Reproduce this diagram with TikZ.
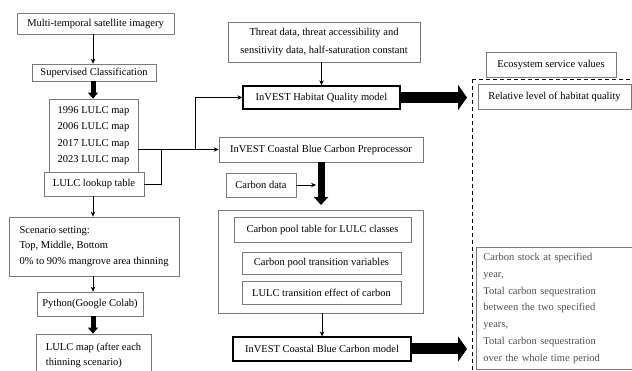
\documentclass[tikz,border=0pt]{standalone}
\usepackage{fontspec}
\setmainfont{Liberation Serif}
\usetikzlibrary{arrows.meta}
\definecolor{bordergray}{HTML}{7A7A7A}
\definecolor{textgray}{HTML}{505050}
\begin{document}
\begin{tikzpicture}[x=1pt,y=-1pt,
  box/.style={draw=bordergray, line width=0.7pt, inner sep=0pt, align=center, font=\fontsize{10.5}{16.3}\selectfont},
  tbox/.style={box, draw=black, line width=1.3pt},
  thinarrow/.style={draw=black, line width=0.7pt, -{Stealth[length=5pt,width=4.5pt]}},
  thinline/.style={draw=black, line width=0.7pt},
  thickv/.style={draw=black, line width=5pt, -{Triangle[length=6pt,width=10pt]}},
  thickc/.style={draw=black, line width=7pt, -{Triangle[length=8pt,width=14pt]}},
  thickh/.style={draw=black, line width=11pt, -{Triangle[length=9pt,width=25pt]}},
  dashbox/.style={draw=black, line width=0.8pt, dash pattern=on 4pt off 3pt}
]
\useasboundingbox (0,0) rectangle (632,371);
\fill[white] (0,0) rectangle (632,371);

% left column
\node[box, minimum width=157, minimum height=21] (sat) at (95.5,23.5) {Multi-temporal satellite imagery};
\node[box, minimum width=124, minimum height=17] (sup) at (94,72.5) {Supervised Classification};
\node[box, minimum width=89, minimum height=73] (maps) at (93.5,135.5) {1996 LULC map\\2006 LULC map\\2017 LULC map\\2023 LULC map};
\node[box, fill=white, minimum width=100, minimum height=24] (lookup) at (94,184) {LULC lookup table};
\node[box, align=left, minimum width=170, minimum height=59, font=\fontsize{10.5}{15.5}\selectfont] (scen) at (94,246.5) {Scenario setting:\\Top, Middle, Bottom\\0\% to 90\% mangrove area thinning};
\node[box, minimum width=106, minimum height=24] (py) at (90,304) {Python(Google Colab)};

\begin{scope}
\clip (0,0) rectangle (632,371);
\node[box, align=left, minimum width=115, minimum height=43, font=\fontsize{10.5}{15}\selectfont] (lmap) at (93.5,355.5) {LULC map (after each\\thinning scenario)};
\end{scope}

\coordinate (colx) at (93,0);
\draw[thinarrow] (sat.south -| colx) -- (sup.north -| colx);
\draw[thickv] (sup.south -| colx) -- (maps.north -| colx);
\draw[thinarrow] (lookup.south -| colx) -- (scen.north -| colx);
\draw[thinarrow] (scen.south -| colx) -- (py.north -| colx);
\draw[thickv] (py.south -| colx) -- (lmap.north -| colx);

% middle column
\node[box, minimum width=192, minimum height=40, font=\fontsize{10.5}{17.4}\selectfont] (threat) at (324,42) {Threat data, threat accessibility and\\sensitivity data, half-saturation constant};
\node[tbox, minimum width=157, minimum height=23] (hab) at (321.5,97.5) {InVEST Habitat Quality model};
\node[box, minimum width=204, minimum height=25] (prep) at (321,149.5) {InVEST Coastal Blue Carbon Preprocessor};
\node[box, minimum width=70, minimum height=24] (cdata) at (261,185) {Carbon data};
\node[box, minimum width=205, minimum height=103] (big) at (320.5,261.5) {};
\node[box, minimum width=177, minimum height=25] (pool) at (322.5,229.5) {Carbon pool table for LULC classes};
\node[box, minimum width=159, minimum height=22] (tvar) at (321.5,263) {Carbon pool transition variables};
\node[box, minimum width=159, minimum height=23] (teff) at (321.5,292.5) {LULC transition effect of carbon};
\node[tbox, minimum width=178, minimum height=24] (cbm) at (322,349) {InVEST Coastal Blue Carbon model};

\draw[thinarrow] (threat.south -| hab.north) -- (hab.north);
\draw[thinarrow] (maps.east |- prep.west) -- (prep.west);
\coordinate (jA) at (161,149.5);
\coordinate (jB) at (195,149.5);
\draw[thinline] (lookup.east) -| (jA);
\draw[thinarrow] (jB) |- (hab.west);
\coordinate (ppTip) at (321,205);
\draw[thickc] (prep.south) -- (ppTip);
\coordinate (cdEnd) at (316,185);
\draw[thinarrow] (cdata.east) -- (cdEnd);
\draw[thinarrow] (big.south -| cbm.north) -- (cbm.north);

% right column
\coordinate (dA) at (472,371);
\coordinate (dB) at (472,79);
\coordinate (dC) at (632,79);
\draw[dashbox] (dB) -- (dA);
\draw[dashbox] (dB) -- (dC);
\node[box, minimum width=130, minimum height=25] (eco) at (551,64.5) {Ecosystem service values};
\node[box, minimum width=153, minimum height=25] (rel) at (554.5,96.5) {Relative level of habitat quality};
\begin{scope}
\clip (0,0) rectangle (632,371);
\node[box, anchor=north west, align=left, text width=155pt, inner xsep=7pt, minimum height=122, text=textgray, font=\fontsize{10.5}{16.7}\selectfont] (cstock) at (476,247) {Carbon stock at specified\\year,\\Total carbon sequestration\\between the two specified\\years,\\Total carbon sequestration\\over the whole time period};
\end{scope}

\coordinate (habTip) at (467,97.5);
\draw[thickh] (hab.east) -- (habTip);
\coordinate (cbTip) at (467,349);
\draw[thickh] (cbm.east) -- (cbTip);
\end{tikzpicture}
\end{document}
